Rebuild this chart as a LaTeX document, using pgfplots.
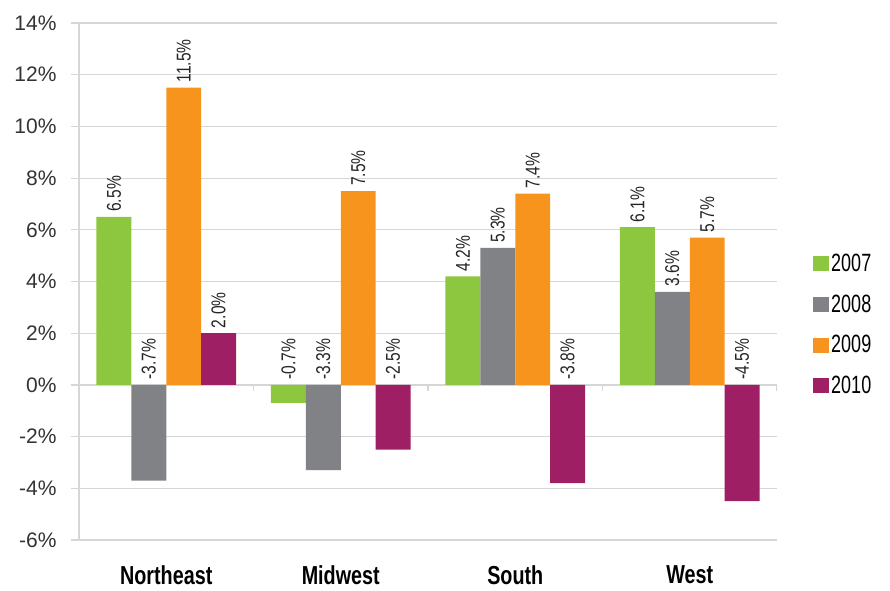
\documentclass[border=0pt]{standalone}
\usepackage{pgfplots}
\pgfplotsset{compat=1.18}
\usepackage{pgfplotstable}
\usepackage{fontspec}
\setmainfont{Liberation Sans}
\newfontfamily\labfont[FakeStretch=0.78]{Liberation Sans}
\newfontfamily\legfont[FakeStretch=0.72]{Liberation Sans}
\newfontfamily\catfont[FakeStretch=0.76]{Liberation Sans}

\definecolor{c07}{HTML}{8DC63F}
\definecolor{c08}{HTML}{808285}
\definecolor{c09}{HTML}{F7941D}
\definecolor{c10}{HTML}{9E1F63}
\definecolor{gridc}{HTML}{D6D6D6}

% annual change by region, percent
\pgfplotstableread{
x  y07   y08   y09   y10
0  6.5   -3.7  11.5  2.0
1  -0.7  -3.3  7.5   -2.5
2  4.2   5.3   7.4   -3.8
3  6.1   3.6   5.7   -4.5
}\growth

\pgfkeys{/pgf/number format/assume math mode=true}

\pgfplotsset{
  sq/.style={legend image code/.code={\fill[##1] (0pt,-7.5pt) rectangle (16pt,7.5pt);}},
  barstyle/.style 2 args={ybar, bar width=0.2, bar shift=#1, fill=#2, draw=none, sq},
  labstyle/.style={only marks, mark=none, forget plot, point meta=explicit,
    nodes near coords={\pgfmathprintnumber[fixed,fixed zerofill,precision=1]{\pgfplotspointmeta}\%},
    every node near coord/.style={rotate=90, anchor=west, inner xsep=5pt, inner ysep=0pt,
      font=\labfont\fontsize{20}{20}\selectfont, text=black!85}},
}

\begin{document}
\begin{tikzpicture}
\useasboundingbox (0,0) rectangle (890pt,590pt);
\begin{axis}[
  at={(79pt,50pt)}, anchor=south west,
  scale only axis, width=698pt, height=517pt,
  xmin=-0.5, xmax=3.5, ymin=-6, ymax=14,
  axis y line*=left, axis x line*=bottom,
  x axis line style={draw=none},
  y axis line style={-, gridc, line width=1.2pt},
  xtick={0,1,2,3},
  xticklabels={Northeast,Midwest,South,West},
  major x tick style={draw=none},
  xticklabel style={font=\catfont\bfseries\fontsize{26}{26}\selectfont, yshift=-14pt},
  ytick={-6,-4,...,14},
  yticklabel={\pgfmathprintnumber{\tick}\%},
  yticklabel style={font=\fontsize{21}{21}\selectfont, text=black!80, xshift=-11pt},
  tick align=outside,
  major tick length=8pt,
  major y tick style={gridc, line width=1.2pt},
  ymajorgrids,
  grid style={gridc, line width=1.2pt},
  legend style={draw=none, fill=none, at={(1.0516,0.4168)}, anchor=west,
    inner sep=0pt, row sep=18pt, font=\legfont\fontsize{25}{25}\selectfont},
  legend cell align=left,
]
\addplot[barstyle={-0.3}{c07}] table[x=x, y=y07]{\growth};
\addlegendentry{2007}
\addplot[barstyle={-0.1}{c08}] table[x=x, y=y08]{\growth};
\addlegendentry{2008}
\addplot[barstyle={0.1}{c09}] table[x=x, y=y09]{\growth};
\addlegendentry{2009}
\addplot[barstyle={0.3}{c10}] table[x=x, y=y10]{\growth};
\addlegendentry{2010}

% value labels, set above the bar or above the zero line
\addplot[labstyle] table[x expr=\thisrow{x}-0.3, y expr={max(\thisrow{y07},0)}, meta=y07]{\growth};
\addplot[labstyle] table[x expr=\thisrow{x}-0.1, y expr={max(\thisrow{y08},0)}, meta=y08]{\growth};
\addplot[labstyle] table[x expr=\thisrow{x}+0.1, y expr={max(\thisrow{y09},0)}, meta=y09]{\growth};
\addplot[labstyle] table[x expr=\thisrow{x}+0.3, y expr={max(\thisrow{y10},0)}, meta=y10]{\growth};

% category separators on the zero line
\pgfplotsinvokeforeach{0.5,1.5,2.5,3.5}{
  \draw[gridc, line width=1.2pt] (axis cs:#1,0) -- ([yshift=-6pt]axis cs:#1,0);
}
\end{axis}
\end{tikzpicture}
\end{document}
